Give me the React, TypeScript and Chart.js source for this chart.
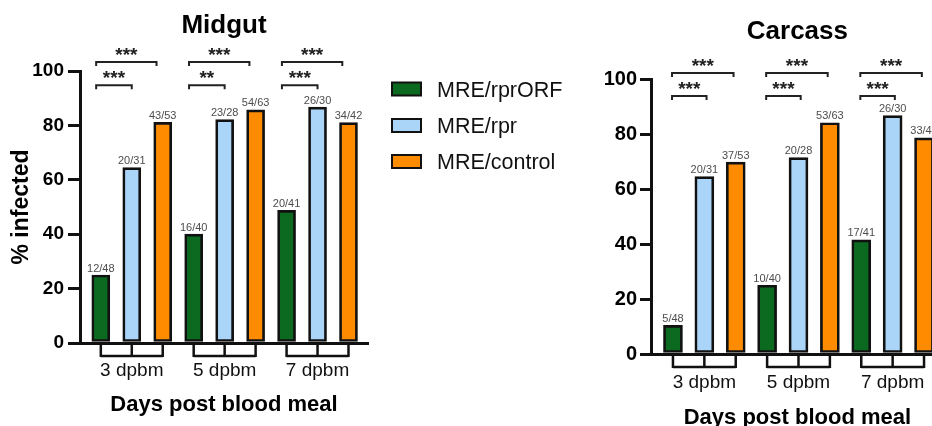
import React, { useEffect, useRef } from "react";
import { Chart, registerables } from "chart.js";

Chart.register(...registerables);

const FONT = "'Liberation Sans', Arial, Helvetica, sans-serif";

// ---------- data ----------
const categories = ["3 dpbm", "5 dpbm", "7 dpbm"];
const seriesNames = ["MRE/rprORF", "MRE/rpr", "MRE/control"];
const seriesColors = ["#0b6a1f", "#aad5f8", "#ff8c00"];
const yTickValues = [0, 20, 40, 60, 80, 100];

// Midgut (% infected)
const midgutRprORF = [25.0, 40.0, 48.8];
const midgutRpr = [64.5, 82.1, 86.7];
const midgutControl = [81.1, 85.7, 81.0];
const midgutRprORFLabels = ["12/48", "16/40", "20/41"];
const midgutRprLabels = ["20/31", "23/28", "26/30"];
const midgutControlLabels = ["43/53", "54/63", "34/42"];
const midgutTopStars = ["***", "***", "***"];
const midgutLowStars = ["***", "**", "***"];

// Carcass (% infected)
const carcassRprORF = [10.4, 25.0, 41.5];
const carcassRpr = [64.5, 71.4, 86.7];
const carcassControl = [69.8, 84.1, 78.6];
const carcassRprORFLabels = ["5/48", "10/40", "17/41"];
const carcassRprLabels = ["20/31", "20/28", "26/30"];
const carcassControlLabels = ["37/53", "53/63", "33/42"];
const carcassTopStars = ["***", "***", "***"];
const carcassLowStars = ["***", "***", "***"];

type Panel = {
  title: string;
  values: number[][];
  labels: string[][];
  topStars: string[];
  lowStars: string[];
  canvasW: number;
  canvasH: number;
  yWidth: number;
  padRight: number;
  xHeight: number;
  xMin: number;
  xMax: number;
  titlePadTop: number;
  titlePadBottom: number;
  yTitle: boolean;
  tickFont: number;
  tickLen: number;
  tickPad: number;
  xTickPad: number;
  xTitlePadBottom: number;
  barThickness: number;
  topVal: number;
  lowVal: number;
  bFrom: number;
  topTo: number;
  lowTo: number;
  legend: boolean;
  underLen: number;
};

const midgutPanel: Panel = {
  title: "Midgut",
  values: [midgutRprORF, midgutRpr, midgutControl],
  labels: [midgutRprORFLabels, midgutRprLabels, midgutControlLabels],
  topStars: midgutTopStars,
  lowStars: midgutLowStars,
  canvasW: 580,
  canvasH: 426,
  yWidth: 80,
  padRight: 212,
  xHeight: 83,
  xMin: -0.672,
  xMax: 8.63,
  titlePadTop: 10.4,
  titlePadBottom: 29.4,
  yTitle: true,
  tickFont: 19,
  tickLen: 12,
  tickPad: 4,
  xTickPad: 16,
  xTitlePadBottom: 8,
  barThickness: 18,
  topVal: 103.3,
  lowVal: 94.8,
  bFrom: -0.15,
  topTo: 1.8,
  lowTo: 1.0,
  legend: true,
  underLen: 14,
};

const carcassPanel: Panel = {
  title: "Carcass",
  values: [carcassRprORF, carcassRpr, carcassControl],
  labels: [carcassRprORFLabels, carcassRprLabels, carcassControlLabels],
  topStars: carcassTopStars,
  lowStars: carcassLowStars,
  canvasW: 380,
  canvasH: 440,
  yWidth: 71,
  padRight: 16.2,
  xHeight: 86,
  xMin: -0.7,
  xMax: 8.63,
  titlePadTop: 16.4,
  titlePadBottom: 31.4,
  yTitle: false,
  tickFont: 20,
  tickLen: 11,
  tickPad: 3,
  xTickPad: 17,
  xTitlePadBottom: 9,
  barThickness: 19,
  topVal: 102.2,
  lowVal: 93.8,
  bFrom: -0.03,
  topTo: 1.93,
  lowTo: 1.07,
  legend: false,
  underLen: 14,
};

function makePlugin(p: Panel) {
  return {
    id: "panelExtras",
    afterDraw(chart: any) {
      const ctx = chart.ctx as CanvasRenderingContext2D;
      const xs = chart.scales.x;
      const ys = chart.scales.y;
      const area = chart.chartArea;
      ctx.save();

      // data labels (n/N)
      ctx.font = `11px ${FONT}`;
      ctx.fillStyle = "#4d4d4d";
      ctx.textAlign = "center";
      ctx.textBaseline = "alphabetic";
      chart.data.datasets.forEach((_ds: any, i: number) => {
        const meta = chart.getDatasetMeta(i);
        meta.data.forEach((el: any, g: number) => {
          ctx.fillText(p.labels[i][g], el.x, el.y - 3.5);
        });
      });

      // grouping brackets under the x axis
      ctx.strokeStyle = "#111";
      ctx.lineWidth = 2.5;
      categories.forEach((_c, g) => {
        const px = [0, 1, 2].map((i) => xs.getPixelForValue(g * 3 + i));
        ctx.beginPath();
        px.forEach((x) => {
          ctx.moveTo(x, area.bottom);
          ctx.lineTo(x, area.bottom + p.underLen);
        });
        ctx.moveTo(px[0], area.bottom + p.underLen - 1);
        ctx.lineTo(px[2], area.bottom + p.underLen - 1);
        ctx.stroke();
      });

      // significance brackets
      const drawBracket = (x1: number, x2: number, y: number, txt: string) => {
        ctx.strokeStyle = "#222";
        ctx.lineWidth = 2;
        ctx.beginPath();
        ctx.moveTo(x1, y + 4);
        ctx.lineTo(x1, y);
        ctx.lineTo(x2, y);
        ctx.lineTo(x2, y + 4);
        ctx.stroke();
        ctx.fillStyle = "#222";
        ctx.font = `bold 19px ${FONT}`;
        ctx.textAlign = "center";
        ctx.textBaseline = "alphabetic";
        const cy = y - 12;
        ctx.fillText(txt, (x1 + x2) / 2, cy + 0.575 * 19);
      };
      categories.forEach((_c, g) => {
        const base = g * 3;
        const x1 = xs.getPixelForValue(base + p.bFrom);
        drawBracket(x1, xs.getPixelForValue(base + p.topTo), ys.getPixelForValue(p.topVal), p.topStars[g]);
        drawBracket(x1, xs.getPixelForValue(base + p.lowTo), ys.getPixelForValue(p.lowVal), p.lowStars[g]);
      });

      // legend
      if (p.legend) {
        const centers = [89, 125.5, 161.5];
        chart.data.datasets.forEach((ds: any, i: number) => {
          const cy = centers[i];
          ctx.fillStyle = ds.backgroundColor;
          ctx.fillRect(392, cy - 6.5, 29, 13);
          ctx.strokeStyle = "#111";
          ctx.lineWidth = 2;
          ctx.strokeRect(392, cy - 6.5, 29, 13);
          ctx.fillStyle = "#111";
          ctx.font = `21.5px ${FONT}`;
          ctx.textAlign = "left";
          ctx.textBaseline = "alphabetic";
          ctx.fillText(ds.label, 437, cy + 0.358 * 21.5);
        });
      }
      ctx.restore();
    },
  };
}

function buildConfig(p: Panel): any {
  return {
    type: "bar",
    data: {
      datasets: seriesNames.map((name, i) => ({
        label: name,
        data: p.values[i].map((v, g) => ({ x: g * 3 + i, y: v })),
        backgroundColor: seriesColors[i],
        borderColor: "#111",
        borderWidth: 2.7,
        borderSkipped: false,
        barThickness: p.barThickness,
        grouped: false,
      })),
    },
    options: {
      animation: false,
      responsive: false,
      maintainAspectRatio: false,
      events: [],
      layout: { padding: { left: 0, top: 0, right: p.padRight, bottom: 0 } },
      plugins: {
        legend: { display: false },
        tooltip: { enabled: false },
        title: {
          display: true,
          text: p.title,
          fullSize: false,
          color: "#000",
          font: { family: FONT, size: 26, weight: "bold", lineHeight: 1.2 },
          padding: { top: p.titlePadTop, bottom: p.titlePadBottom },
        },
      },
      scales: {
        x: {
          type: "linear",
          min: p.xMin,
          max: p.xMax,
          bounds: "data",
          offset: false,
          grid: { display: false, drawTicks: false },
          border: { display: true, color: "#111", width: 3 },
          afterBuildTicks: (axis: any) => {
            axis.ticks = categories.map((_c, g) => ({ value: g * 3 + 1 }));
          },
          ticks: {
            callback: (_v: any, idx: number) => categories[idx],
            color: "#111",
            font: { family: FONT, size: 19, lineHeight: 1.2 },
            padding: p.xTickPad,
            maxRotation: 0,
            autoSkip: false,
          },
          title: {
            display: true,
            text: "Days post blood meal",
            color: "#000",
            font: { family: FONT, size: 22, weight: "bold", lineHeight: 1.2 },
            padding: { top: 0, bottom: p.xTitlePadBottom },
          },
          afterFit: (s: any) => {
            s.height = p.xHeight;
          },
        },
        y: {
          type: "linear",
          min: 0,
          max: 100,
          afterBuildTicks: (axis: any) => {
            axis.ticks = yTickValues.map((v) => ({ value: v }));
          },
          ticks: {
            color: "#000",
            font: { family: FONT, size: p.tickFont, weight: "bold" },
            padding: p.tickPad,
          },
          grid: {
            display: true,
            drawOnChartArea: false,
            drawTicks: true,
            tickLength: p.tickLen,
            color: "#111",
            lineWidth: 3,
          },
          border: { display: true, color: "#111", width: 3 },
          title: {
            display: p.yTitle,
            text: "% infected",
            color: "#000",
            font: { family: FONT, size: 23, weight: "bold", lineHeight: 1.2 },
            padding: { top: 8, bottom: 0 },
          },
          afterFit: (s: any) => {
            s.width = p.yWidth;
          },
        },
      },
    },
    plugins: [makePlugin(p)],
  };
}

function PanelChart({ panel, left }: { panel: Panel; left: number }) {
  const ref = useRef<HTMLCanvasElement | null>(null);
  useEffect(() => {
    if (!ref.current) return;
    const chart = new Chart(ref.current, buildConfig(panel));
    return () => chart.destroy();
  }, [panel]);
  return (
    <canvas
      ref={ref}
      width={panel.canvasW}
      height={panel.canvasH}
      style={{ position: "absolute", left, top: 0, width: panel.canvasW, height: panel.canvasH, display: "block" }}
    />
  );
}

export default function App() {
  return (
    <div
      style={{
        position: "fixed",
        left: 0,
        top: 0,
        width: 932,
        height: 426,
        overflow: "hidden",
        background: "#fff",
      }}
    >
      <PanelChart panel={midgutPanel} left={0} />
      <PanelChart panel={carcassPanel} left={580} />
    </div>
  );
}
